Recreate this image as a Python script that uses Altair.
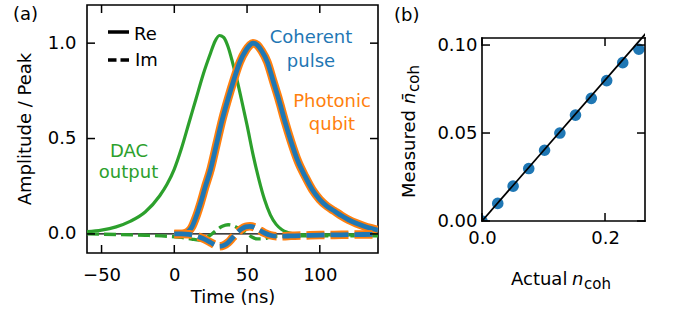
import altair as alt
import pandas as pd

FONT = "DejaVu Sans"
BLUE = "#1f77b4"
ORANGE = "#ff7f0e"
GREEN = "#2ca02c"

# ---------------- Panel (a) data ----------------
pulse_re_t = [0, 5, 8, 10, 12, 15, 18, 21, 25, 29, 33, 37, 41, 45, 49, 52, 54, 57, 60, 64,
              68, 72, 76, 80, 85, 90, 95, 100, 105, 110, 115, 120, 125, 130, 135, 140]
pulse_re_v = [0.0, 0.0, 0.005, 0.015, 0.035, 0.09, 0.16, 0.24, 0.34, 0.47, 0.6, 0.71, 0.81, 0.9,
              0.96, 0.99, 1.0, 0.99, 0.96, 0.9, 0.8, 0.7, 0.59, 0.49, 0.38, 0.3, 0.23, 0.18,
              0.145, 0.12, 0.095, 0.073, 0.056, 0.042, 0.03, 0.02]

pulse_im_t = [0, 5, 10, 15, 20, 25, 28, 31, 34, 37, 40, 43, 46, 49, 52, 55, 58, 62, 66, 70,
              75, 80, 90, 100, 110, 120, 130, 140]
pulse_im_v = [0.0, 0.0, -0.002, -0.01, -0.025, -0.045, -0.058, -0.065, -0.06, -0.045, -0.02,
              0.005, 0.025, 0.037, 0.04, 0.035, 0.022, 0.005, -0.007, -0.012, -0.012, -0.01,
              -0.008, -0.006, -0.005, -0.004, -0.003, -0.002]

dac_re_t = [-60, -50, -40, -30, -20, -10, -5, 0, 5, 10, 15, 20, 25, 28, 31, 34, 37, 40, 43,
            46, 50, 54, 58, 62, 66, 70, 74, 78, 82, 90, 100, 120, 140]
dac_re_v = [0.012, 0.02, 0.037, 0.067, 0.115, 0.2, 0.26, 0.34, 0.45, 0.58, 0.71, 0.84, 0.95,
            1.01, 1.04, 1.03, 0.98, 0.9, 0.81, 0.71, 0.57, 0.42, 0.29, 0.18, 0.1, 0.05, 0.022,
            0.008, 0.0, -0.005, -0.005, -0.005, -0.005]

dac_im_t = [-60, -40, -20, -5, 5, 12, 17, 21, 25, 29, 33, 37, 41, 45, 49, 53, 57, 61, 65, 70,
            80, 100, 120, 140]
dac_im_v = [0.0, -0.003, -0.007, -0.012, -0.018, -0.027, -0.032, -0.025, -0.005, 0.02, 0.04,
            0.048, 0.042, 0.025, 0.008, -0.015, -0.026, -0.026, -0.018, -0.012, -0.01, -0.01,
            -0.01, -0.01]

x_ticks_a = [-50, 0, 50, 100]
y_ticks_a = [0.0, 0.5, 1.0]

# ---------------- Panel (b) data ----------------
actual_n = [0.0, 0.0256, 0.0506, 0.076, 0.1017, 0.1266, 0.152, 0.1777, 0.2027, 0.2288, 0.255]
measured_n = [0.0, 0.010, 0.0198, 0.0298, 0.0402, 0.050, 0.0602, 0.0697, 0.0798, 0.090, 0.0976]
fit_x = [0.0, 0.27]
fit_y = [0.0, 0.108]
x_ticks_b = [0.0, 0.2]
y_ticks_b = [0.0, 0.05, 0.10]

W_A, H_A = 291, 248
W_B, H_B = 163, 216      # panel (b) view; its framed plot spans y from TOP_B to H_B
TOP_B = 33
TICK = 8

xs_a = alt.Scale(domain=[-60, 140], nice=False, zero=False)
ys_a = alt.Scale(domain=[-0.1, 1.2], nice=False, zero=False)
xs_b = alt.Scale(domain=[0, 0.265], nice=False, zero=False)
ys_b = alt.Scale(domain=[0, 0.104], range=[H_B, TOP_B], nice=False, zero=False)


def axis(values, fmt, pad):
    return alt.Axis(values=values, format=fmt, title=None, ticks=False, tickSize=0, domain=False,
                    grid=False, labelFont=FONT, labelFontSize=18, labelColor="black",
                    labelPadding=pad, labelFlush=False, labelOverlap=False)


ax_x_a = axis(x_ticks_a, "d", 13)
ax_y_a = axis(y_ticks_a, ".1f", 11)
ax_x_b = axis(x_ticks_b, ".1f", 8)
ax_y_b = axis(y_ticks_b, ".2f", 5)

one = pd.DataFrame({"k": [0]})


def xa(f="t"):
    return alt.X(f"{f}:Q", scale=xs_a, axis=ax_x_a)


def ya(f="v"):
    return alt.Y(f"{f}:Q", scale=ys_a, axis=ax_y_a)


def xb(f="x"):
    return alt.X(f"{f}:Q", scale=xs_b, axis=ax_x_b)


def yb(f="y"):
    return alt.Y(f"{f}:Q", scale=ys_b, axis=ax_y_b)


def curve(t, v, color, width, dash=None):
    df = pd.DataFrame({"t": t, "v": v})
    kw = dict(color=color, strokeWidth=width, clip=True, strokeCap="butt",
              strokeJoin="round", interpolate="monotone")
    if dash:
        kw["strokeDash"] = dash
    return alt.Chart(df).mark_line(**kw).encode(x=xa(), y=ya())


def label(text, x, y, color="black", size=18, align="left", angle=None, style=None):
    kw = dict(text=text, font=FONT, fontSize=size, color=color, align=align,
              baseline="alphabetic")
    if angle is not None:
        kw["angle"] = angle
    if style:
        kw["fontStyle"] = style
    return alt.Chart(one).mark_text(**kw).encode(x=alt.value(x), y=alt.value(y))


def seg(x1, x2, y1, y2, width=1.6, **kw):
    return alt.Chart(one).mark_rule(color="black", strokeWidth=width, **kw).encode(
        x=alt.value(x1), x2=alt.value(x2), y=alt.value(y1), y2=alt.value(y2))


def ticks(xfun, yfun, xvals, yvals, W, top, bottom):
    dfx = pd.DataFrame({"tx": xvals})
    dfy = pd.DataFrame({"ty": yvals})
    st = dict(color="black", strokeWidth=1.5)
    return [
        alt.Chart(dfx).mark_rule(**st).encode(x=xfun("tx"), y=alt.value(bottom),
                                              y2=alt.value(bottom - TICK)),
        alt.Chart(dfx).mark_rule(**st).encode(x=xfun("tx"), y=alt.value(top),
                                              y2=alt.value(top + TICK)),
        alt.Chart(dfy).mark_rule(**st).encode(y=yfun("ty"), x=alt.value(0), x2=alt.value(TICK)),
        alt.Chart(dfy).mark_rule(**st).encode(y=yfun("ty"), x=alt.value(W - TICK), x2=alt.value(W)),
    ]


def bound_marker(x1, x2, y):
    return alt.Chart(one).mark_rule(opacity=0, strokeWidth=0).encode(
        x=alt.value(x1), x2=alt.value(x2), y=alt.value(y))


# ---------------- Panel (a) ----------------
zero_line = alt.Chart(pd.DataFrame({"t": [-60, 140], "v": [0, 0]})).mark_line(
    color="black", strokeWidth=1.2, clip=True).encode(x=xa(), y=ya())

layers_a = [
    bound_marker(-86, 293, -4),
    zero_line,
    curve(dac_re_t, dac_re_v, GREEN, 3.2),
    curve(dac_im_t, dac_im_v, GREEN, 3.4, [12, 5]),
    curve(pulse_re_t, pulse_re_v, ORANGE, 8.5),
    curve(pulse_re_t, pulse_re_v, BLUE, 4.8),
    curve(pulse_im_t, pulse_im_v, ORANGE, 8.5, [18, 6]),
    curve(pulse_im_t, pulse_im_v, BLUE, 4.8, [18, 6]),
] + ticks(xa, ya, x_ticks_a, y_ticks_a, W_A, 0, H_A) + [
    # legend
    seg(21, 42, 27, 27, width=3.5),
    seg(21, 42, 55, 55, width=3.5, strokeDash=[8.5, 4]),
    label("Re", 47, 35),
    label("Im", 48, 61),
    # annotations
    label("Coherent", 224, 37.5, BLUE, align="center"),
    label("pulse", 224, 62, BLUE, align="center"),
    label("Photonic", 245, 102, ORANGE, align="center"),
    label("qubit", 245, 124.5, ORANGE, align="center"),
    label("DAC", 42, 152, GREEN, align="center"),
    label("output", 41.5, 173, GREEN, align="center"),
    label("(a)", -74, 15),
    label("Time (ns)", 146, 298, align="center"),
    label("Amplitude / Peak", -56, 124, align="center", angle=270),
]
panel_a = alt.layer(*layers_a).properties(width=W_A, height=H_A)

# ---------------- Panel (b) ----------------
df_pts = pd.DataFrame({"x": actual_n, "y": measured_n})
df_fit = pd.DataFrame({"x": fit_x, "y": fit_y})

layers_b = [
    bound_marker(-100, -99, -4),
    alt.Chart(df_pts).mark_circle(color=BLUE, size=135, opacity=1, clip=True).encode(x=xb(), y=yb()),
    alt.Chart(df_fit).mark_line(color="black", strokeWidth=1.8, clip=True).encode(x=xb(), y=yb()),
    # frame of panel (b)
    seg(0, W_B, TOP_B, TOP_B, strokeCap="square"),
    seg(0, W_B, H_B, H_B, strokeCap="square"),
    seg(0, 0, TOP_B, H_B, strokeCap="square"),
    seg(W_B, W_B, TOP_B, H_B, strokeCap="square"),
] + ticks(xb, yb, x_ticks_b, y_ticks_b, W_B, TOP_B, H_B) + [
    label("(b)", -88, 15.5),
    label("Actual", 29, 280),
    label("n", 90, 280, style="italic"),
    label("coh", 102, 284, size=15),
    label("Measured", -67, 193, angle=270),
    label("n\u0304", -67, 99, angle=270, style="italic"),
    label("coh", -63, 87, size=15, angle=270),
]
panel_b = alt.layer(*layers_b).properties(
    width=W_B, height=H_B, view=alt.ViewBackground(stroke="transparent"))

chart = alt.hconcat(panel_a, panel_b, spacing=0, bounds="full").properties(
    padding=0
).configure_view(stroke="black", strokeWidth=1.6)

chart.save("out.html", embed_options={"renderer": "svg", "actions": False})
